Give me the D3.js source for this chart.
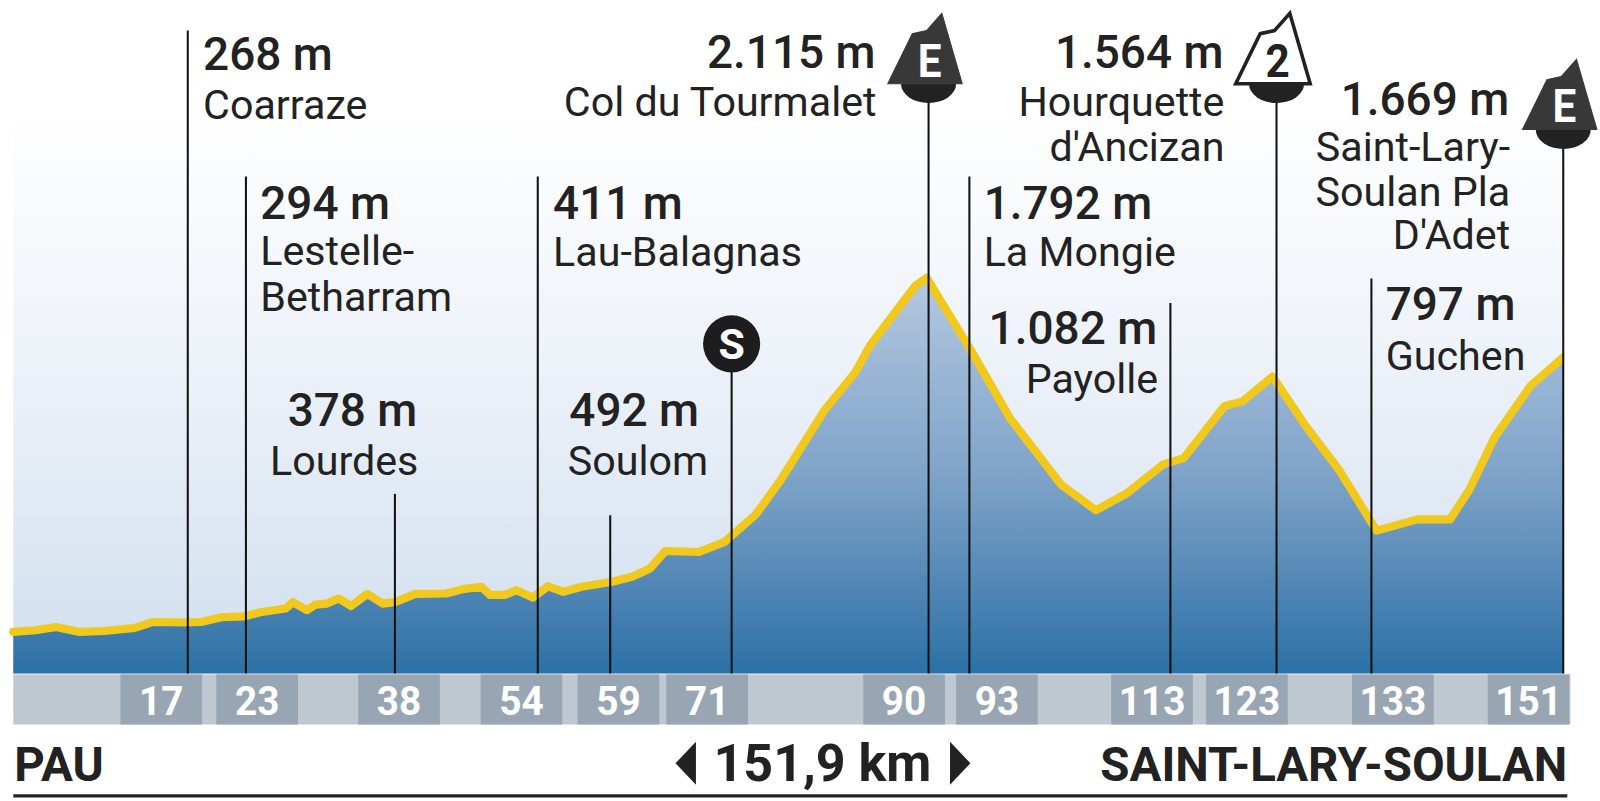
<!DOCTYPE html>
<html>
<head>
<meta charset="utf-8">
<script src="https://cdn.jsdelivr.net/npm/d3@7"></script>
<style>
html,body{margin:0;padding:0;background:#fff;}
svg{display:block;}
text{font-family:Roboto,sans-serif;fill:#222;}
</style>
</head>
<body>
<div id="chart-area"></div>
<script>
// profile
const profileKm = [0,2.2,4.2,6.5,8.9,11.9,13.7,16.9,18.4,20.4,22.7,24.2,26.7,27.4,28.8,29.6,30.7,31.9,33.1,34.7,36.2,37.4,39.4,42.4,44.2,45.9,46.7,48.2,49.3,50.9,52.4,53.9,55.7,58.7,60.7,62.4,63.9,67.2,69.7,72.7,75.2,79.5,82.5,84,86.5,88.4,89.5,91.2,93.9,97.7,102.7,106.1,109.2,112.7,114.7,118.7,120.5,123.4,126.7,129.9,133.6,137.6,140.8,142.7,145.2,148.7,151.9];
const profileAlt = [222,231,248,222,227,243,275,272,275,300,305,327,347,381,338,368,373,400,360,425,373,381,425,427,452,463,420,420,445,405,466,436,463,490,518,561,654,649,703,845,1032,1406,1608,1755,1935,2071,2114,1962,1722,1362,1008,872,965,1117,1150,1428,1455,1586,1319,1090,763,823,823,981,1264,1537,1689];

const passKm = [17.1,22.8,37.4,51.4,58.5,70.4,89.7,93.7,113.4,123.8,133.1,151.9];
const passAlt = ['268 m','294 m','378 m','411 m','492 m',null,'2.115 m','1.792 m','1.082 m','1.564 m','797 m','1.669 m'];
const passNames = [['Coarraze'],['Lestelle-','Betharram'],['Lourdes'],['Lau-Balagnas'],['Soulom'],null,['Col du Tourmalet'],['La Mongie'],['Payolle'],['Hourquette',"d'Ancizan"],['Guchen'],['Saint-Lary-','Soulan Pla',"D'Adet"]];
const kmLabels = ['17','23','38','54','59','71','90','93','113','123','133','151'];
const startName = 'PAU', endName = 'SAINT-LARY-SOULAN', distance = '151,9 km';

// layout only: top of the pole, text x + anchor, baseline of the height, of each name line
const layout = [
  {top:30, x:199, anchor:'start', altY:68.5, nameY:[116.5]},
  {top:173, x:255, anchor:'start', altY:214.5, nameY:[259.5,304.5]},
  {top:484, x:409, anchor:'end', altY:417.5, nameY:[465.5]},
  {top:173, x:542, anchor:'start', altY:214.5, nameY:[260.5]},
  {top:505, x:685, nameX:693, anchor:'end', altY:417.5, nameY:[465.5]},
  {top:337},
  {top:100, x:858, anchor:'end', altY:66.5, nameY:[113.5]},
  {top:173, x:964, anchor:'start', altY:214.5, nameY:[260.5]},
  {top:297, x:1134, anchor:'end', altY:337.5, nameY:[385.5]},
  {top:100, x:1199, anchor:'end', altY:66.5, nameY:[113.5,157.5]},
  {top:273, x:1358, anchor:'start', altY:313.5, nameY:[362.5]},
  {top:145, x:1479, anchor:'end', altY:113, nameY:[157.5,201.5,244.5]}
];
const boxLeft = [118,212,351,471,566,653,846,937,1089,1182,1325,1458];
const boxW = 80;

const width = 1568, height = 785;
const x = d3.scaleLinear().domain([0,151.9]).range([13,1532]);
const y = d3.scaleLinear().domain([0,2115]).range([660,272]);

const svg = d3.select('#chart-area').append('svg')
  .attr('width',1600).attr('height',801)
  .attr('viewBox',[0,0,width,height]);

const defs = svg.append('defs');
function grad(id,y1,y2,stops){
  const g = defs.append('linearGradient').attr('id',id)
    .attr('gradientUnits','userSpaceOnUse')
    .attr('x1',0).attr('x2',0).attr('y1',y1).attr('y2',y2);
  stops.forEach(s=>g.append('stop').attr('offset',s[0]).attr('stop-color',s[1]));
}
grad('sky',110,660,[[0,'#ffffff'],[0.45,'#edf2f9'],[1,'#d0deee']]);
grad('hill',272,660,[[0,'#b4c8e0'],[0.5,'#7fa3c9'],[1,'#2c70a5']]);
defs.append('clipPath').attr('id','lineClip').append('rect').attr('x',0).attr('y',0).attr('width',x(151.9)+1).attr('height',height);

svg.append('rect').attr('x',x(0)).attr('y',110).attr('width',x(151.9)-x(0)).attr('height',550).attr('fill','url(#sky)');

const profile = profileKm.map((k,i)=>({km:k,alt:profileAlt[i]}));
svg.append('path').datum(profile)
  .attr('fill','url(#hill)')
  .attr('d',d3.area().x(d=>x(d.km)).y0(y(0)).y1(d=>y(d.alt)));
svg.append('path').datum(profile)
  .attr('clip-path','url(#lineClip)')
  .attr('fill','none').attr('stroke','#f1c81c').attr('stroke-width',8).attr('stroke-linejoin','round').attr('stroke-linecap','round')
  .attr('d',d3.line().x(d=>x(d.km)).y(d=>y(d.alt)));

// km strip
svg.append('rect').attr('x',13).attr('y',661).attr('width',1526).attr('height',49).attr('fill','#bfc8d1');
const boxes = svg.append('g').selectAll('g').data(kmLabels).join('g');
boxes.append('rect').attr('x',(d,i)=>boxLeft[i]).attr('y',661).attr('width',boxW).attr('height',49).attr('fill','#98a5b2');
boxes.append('text').attr('transform',(d,i)=>`translate(${boxLeft[i]+boxW/2},701) scale(.95,1)`)
  .attr('text-anchor','middle').attr('font-size',40).attr('font-weight',700).style('fill','#fff').text(d=>d);

// poles
svg.append('g').selectAll('line').data(passKm).join('line')
  .attr('x1',d=>x(d)).attr('x2',d=>x(d)).attr('y1',(d,i)=>layout[i].top).attr('y2',y(0))
  .attr('stroke','#111').attr('stroke-width',2);

// labels
passKm.forEach((k,i)=>{
  if(!passAlt[i]) return;
  const l = layout[i];
  svg.append('text').attr('x',l.x).attr('y',l.altY).attr('text-anchor',l.anchor)
    .attr('font-size',45).attr('font-weight',500).text(passAlt[i]);
  passNames[i].forEach((n,j)=>{
    svg.append('text').attr('x',(l.nameX||l.x)+(l.anchor==='end'?1:0)).attr('y',l.nameY[j]).attr('text-anchor',l.anchor)
      .attr('font-size',40.4).text(n);
  });
});

// mountain markers
function marker(km,baseY,letter,open){
  const g = svg.append('g').attr('transform',`translate(${x(km)},${baseY})`);
  g.append('path').attr('d','M-27,0A27,19 0 0 0 27,0Z').attr('fill','#222');
  g.append('path').attr('d','M-40,0L-16,-49L-2,-52L13,-69L33,0Z')
    .attr('fill',open?'#fff':'#383838').attr('stroke',open?'#222':'#383838').attr('stroke-width',open?3.5:1)
    .attr('stroke-linejoin','miter').attr('stroke-miterlimit',2.5);
  g.append('text').attr('transform','translate(1,-7) scale(.9,1)').attr('text-anchor','middle').attr('font-size',46).attr('font-weight',700)
    .style('fill',open?'#222':'#fff').text(letter);
}
marker(passKm[6],82,'E',false);
marker(passKm[9],82,'2',true);
marker(passKm[11],127,'E',false);

// sprint
svg.append('circle').attr('cx',x(passKm[5])).attr('cy',337).attr('r',28).attr('fill','#1d1d1d');
svg.append('text').attr('x',x(passKm[5])).attr('y',352).attr('text-anchor','middle').attr('font-size',42).attr('font-weight',700).style('fill','#fff').text('S');

// footer
svg.append('text').attr('x',14).attr('y',765).attr('font-size',46.5).attr('font-weight',700).text(startName);
svg.append('text').attr('x',1536).attr('y',765).attr('text-anchor','end').attr('font-size',46.5).attr('font-weight',700).text(endName);
svg.append('text').attr('x',806).attr('y',765).attr('text-anchor','middle').attr('font-size',51).attr('font-weight',700).text(distance);
svg.append('path').attr('d','M662,748L682,727V769Z').attr('fill','#222');
svg.append('path').attr('d','M951,748L931,727V769Z').attr('fill','#222');
svg.append('line').attr('x1',13).attr('x2',1536).attr('y1',780).attr('y2',780).attr('stroke','#222').attr('stroke-width',3);
</script>
</body>
</html>
